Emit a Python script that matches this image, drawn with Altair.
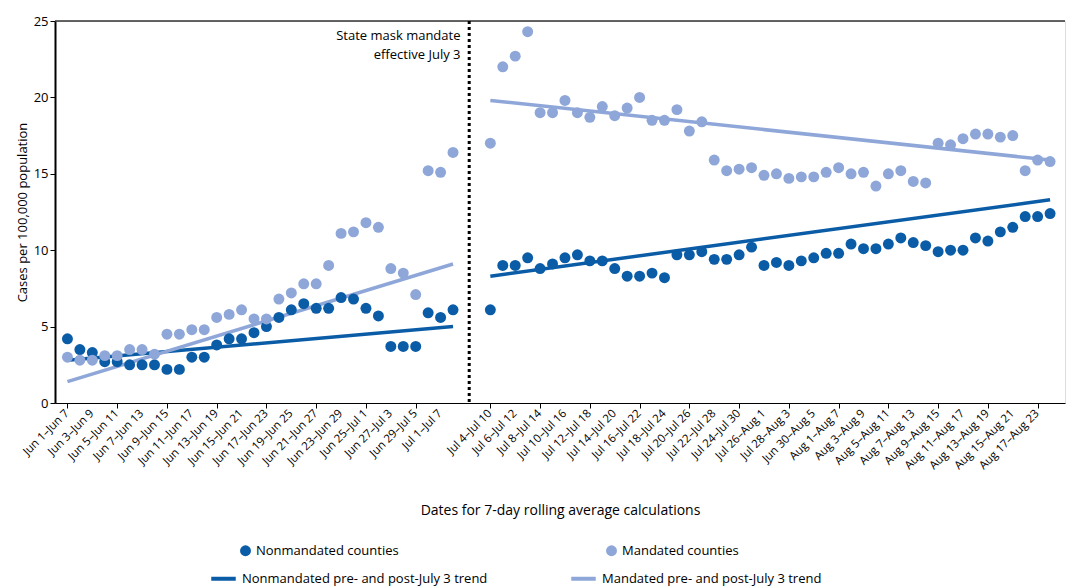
import altair as alt
import pandas as pd

# 7-day windows, pre-mandate (Jun 1 ... Jul 2 starts) and post-mandate (Jul 4 ... starts)
non_pre = [4.2, 3.5, 3.3, 2.7, 2.7, 2.5, 2.5, 2.5, 2.2, 2.2, 3.0, 3.0, 3.8, 4.2, 4.2, 4.6,
           5.0, 5.6, 6.1, 6.5, 6.2, 6.2, 6.9, 6.8, 6.2, 5.7, 3.7, 3.7, 3.7, 5.9, 5.6, 6.1]
man_pre = [3.0, 2.8, 2.8, 3.1, 3.1, 3.5, 3.5, 3.2, 4.5, 4.5, 4.8, 4.8, 5.6, 5.8, 6.1, 5.5,
           5.5, 6.8, 7.2, 7.8, 7.8, 9.0, 11.1, 11.2, 11.8, 11.5, 8.8, 8.5, 7.1, 15.2, 15.1, 16.4]
non_post = [6.1, 9.0, 9.0, 9.5, 8.8, 9.1, 9.5, 9.7, 9.3, 9.3, 8.8, 8.3, 8.3, 8.5, 8.2, 9.7,
            9.7, 9.9, 9.4, 9.4, 9.7, 10.2, 9.0, 9.2, 9.0, 9.3, 9.5, 9.8, 9.8, 10.4, 10.1, 10.1,
            10.4, 10.8, 10.5, 10.3, 9.9, 10.0, 10.0, 10.8, 10.6, 11.2, 11.5, 12.2, 12.2, 12.4]
man_post = [17.0, 22.0, 22.7, 24.3, 19.0, 19.0, 19.8, 19.0, 18.7, 19.4, 18.8, 19.3, 20.0, 18.5,
            18.5, 19.2, 17.8, 18.4, 15.9, 15.2, 15.3, 15.4, 14.9, 15.0, 14.7, 14.8, 14.8, 15.1,
            15.4, 15.0, 15.1, 14.2, 15.0, 15.2, 14.5, 14.4, 17.0, 16.9, 17.3, 17.6, 17.6, 17.4,
            17.5, 15.2, 15.9, 15.8]
# trend endpoints
non_trend_pre, man_trend_pre = [2.8, 5.0], [1.4, 9.1]
non_trend_post, man_trend_post = [8.3, 13.3], [19.8, 15.9]

left_labels = ["Jun 1–Jun 7", "Jun 3–Jun 9", "Jun 5–Jun 11", "Jun 7–Jun 13", "Jun 9–Jun 15",
               "Jun 11–Jun 17", "Jun 13–Jun 19", "Jun 15–Jun 21", "Jun 17–Jun 23", "Jun 19–Jun 25",
               "Jun 21–Jun 27", "Jun 23–Jun 29", "Jun 25–Jul 1", "Jun 27–Jul 3", "Jun 29–Jul 5",
               "Jul 1–Jul 7"]
right_labels = ["Jul 4–Jul 10", "Jul 6–Jul 12", "Jul 8–Jul 14", "Jul 10–Jul 16", "Jul 12–Jul 18",
                "Jul 14–Jul 20", "Jul 16–Jul 22", "Jul 18–Jul 24", "Jul 20–Jul 26", "Jul 22–Jul 28",
                "Jul 24–Jul 30", "Jul 26–Aug 1", "Jul 28–Aug 3", "Jun 30–Aug 5", "Aug 1–Aug 7",
                "Aug 3–Aug 9", "Aug 5–Aug 11", "Aug 7–Aug 13", "Aug 9–Aug 15", "Aug 11–Aug 17",
                "Aug 13–Aug 19", "Aug 15–Aug 21", "Aug 17–Aug 23"]

OFF = 34  # first post-mandate slot
DARK, LIGHT = "#0b5ca6", "#8ea7d8"
FONT = "Open Sans"
H = 382

rows = []
for i, (a, b) in enumerate(zip(non_pre, man_pre)):
    rows.append({"i": i, "v": a, "s": "Nonmandated counties"})
    rows.append({"i": i, "v": b, "s": "Mandated counties"})
for i, (a, b) in enumerate(zip(non_post, man_post)):
    rows.append({"i": i + OFF, "v": a, "s": "Nonmandated counties"})
    rows.append({"i": i + OFF, "v": b, "s": "Mandated counties"})
pts = pd.DataFrame(rows)

lend = [0, len(non_pre) - 1]
rend = [OFF, OFF + len(non_post) - 1]
trows = []
for seg, xs, n, m in [("pre", lend, non_trend_pre, man_trend_pre), ("post", rend, non_trend_post, man_trend_post)]:
    for k in range(2):
        trows.append({"i": xs[k], "v": n[k], "s": "Nonmandated pre- and post-July 3 trend", "g": "n" + seg})
        trows.append({"i": xs[k], "v": m[k], "s": "Mandated pre- and post-July 3 trend", "g": "m" + seg})
trend = pd.DataFrame(trows)

tick_vals = [2 * k for k in range(len(left_labels))] + [OFF + 2 * k for k in range(len(right_labels))]
ticks = pd.DataFrame({"i": tick_vals, "t": left_labels + right_labels})

xs = alt.Scale(domain=[-1, 80.2], nice=False, zero=False)
ys = alt.Scale(domain=[0, 25], nice=False)
xax = alt.Axis(values=tick_vals, labels=False, grid=False,
               title="Dates for 7-day rolling average calculations", titlePadding=95,
               titleFontSize=14, domainColor="black", tickColor="black",
               titleFontWeight="normal", titleColor="black")
yax = alt.Axis(values=[0, 5, 10, 15, 20, 25], grid=False, title="Cases per 100,000 population",
               labelFontSize=13, titleFontSize=13, domainColor="black", tickColor="black",
               labelColor="black", titleFontWeight="normal", domainWidth=2, titleColor="black")

lines = alt.Chart(trend).mark_line(strokeWidth=3.5).encode(
    x=alt.X("i:Q", scale=xs, axis=xax),
    y=alt.Y("v:Q", scale=ys, axis=yax),
    detail="g:N",
    stroke=alt.Stroke("s:N", scale=alt.Scale(
        domain=["Nonmandated pre- and post-July 3 trend", "Mandated pre- and post-July 3 trend"],
        range=[DARK, LIGHT]),
        legend=alt.Legend(title=None, orient="none", legendX=154, legendY=543, direction="horizontal",
                          symbolType="stroke", symbolStrokeWidth=4, symbolSize=600, labelFontSize=13,
                          columnPadding=75, labelFont=FONT, labelLimit=400)),
)

points = alt.Chart(pts).mark_circle(size=120, opacity=1).encode(
    x="i:Q", y="v:Q",
    color=alt.Color("s:N", scale=alt.Scale(domain=["Nonmandated counties", "Mandated counties"],
                                           range=[DARK, LIGHT]),
                    legend=alt.Legend(title=None, orient="none", legendX=184, legendY=523,
                                      direction="horizontal", symbolSize=120, labelFontSize=13,
                                      columnPadding=206, labelFont=FONT, labelLimit=400)),
)

tick_text = alt.Chart(ticks).mark_text(
    angle=315, align="right", baseline="middle", fontSize=11.5, font=FONT, color="black"
).encode(x="i:Q", y=alt.value(H + 9), text="t:N")

divider = alt.Chart(pd.DataFrame({"i": [32.3]})).mark_rule(
    strokeDash=[3, 3], strokeWidth=3, color="black").encode(x="i:Q")
top = alt.Chart(pd.DataFrame({"v": [25]})).mark_rule(color="#333", strokeWidth=1.5).encode(y="v:Q")
note = alt.Chart(pd.DataFrame({"i": [31.6], "v": [24.4], "t": [["State mask mandate", "effective July 3"]]})).mark_text(
    align="right", baseline="top", fontSize=13, font=FONT, color="black", lineHeight=19, fontWeight=500
).encode(x="i:Q", y="v:Q", text="t")

chart = alt.layer(top, lines, points, divider, note, tick_text).properties(
    width=1010, height=H, padding={"left": 8, "top": 7, "right": 5, "bottom": 0}
).configure_view(stroke=None).configure(font=FONT)

chart.save("out.html", embed_options={"renderer": "svg", "actions": False})
